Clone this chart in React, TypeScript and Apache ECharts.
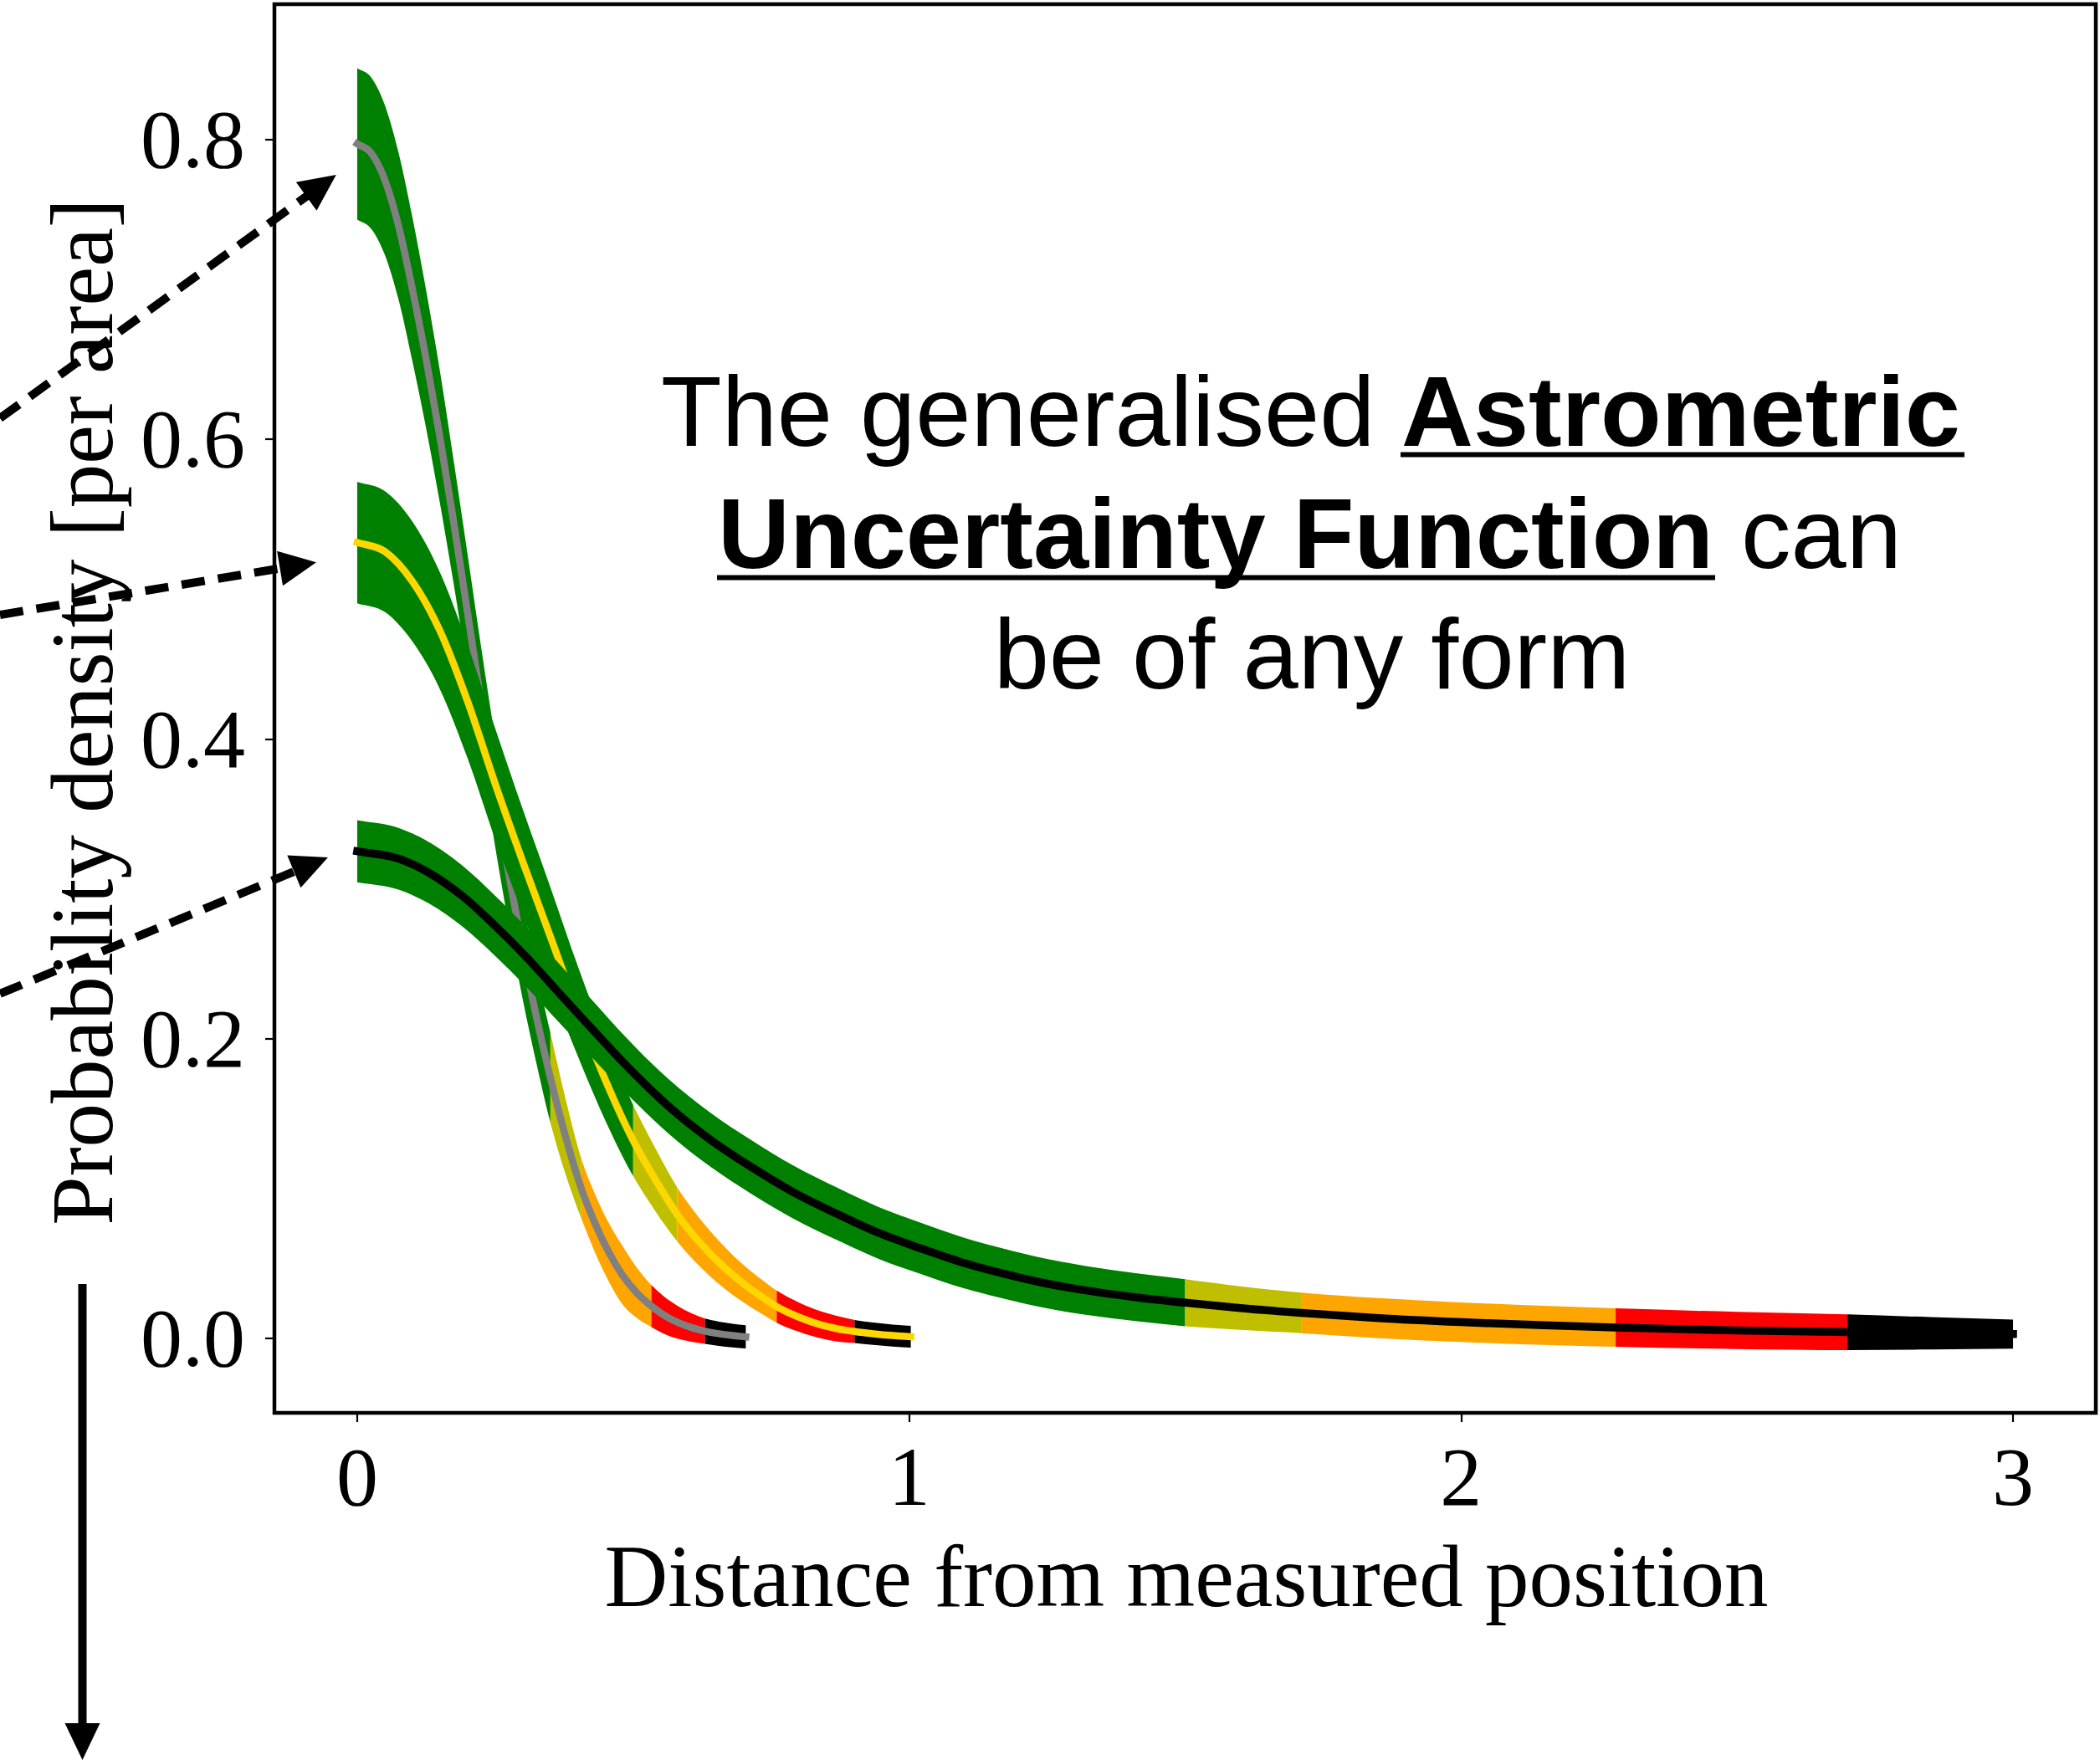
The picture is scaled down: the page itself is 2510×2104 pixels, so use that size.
import React, { useEffect, useRef } from 'react';
import * as echarts from 'echarts';

// ---- axis ticks ----
const X_TICKS = [0, 1, 2, 3];
const X_TICK_LABELS = ['0', '1', '2', '3'];
const Y_TICKS = [0, 0.2, 0.4, 0.6, 0.8];
const Y_TICK_LABELS = ['0.0', '0.2', '0.4', '0.6', '0.8'];

// ---- band colours along each curve (green, olive, orange, red, black) ----
const SEGMENT_COLORS = ['#008000', '#bfbf00', '#ffa500', '#ff0000', '#000000'];

// ---- gray curve ----
const GRAY_X = [0, 0.025, 0.05, 0.075, 0.1, 0.125, 0.15, 0.175, 0.2, 0.225, 0.25, 0.275, 0.3, 0.325, 0.35, 0.378, 0.406, 0.43, 0.455, 0.48, 0.505, 0.533, 0.555, 0.58, 0.605, 0.63, 0.655, 0.68, 0.704];
const GRAY_Y = [0.797, 0.791, 0.773, 0.742, 0.7, 0.653, 0.601, 0.544, 0.484, 0.423, 0.364, 0.309, 0.259, 0.214, 0.174, 0.134, 0.1, 0.0775, 0.058, 0.0425, 0.031, 0.0215, 0.0157, 0.0108, 0.0073, 0.0048, 0.0031, 0.0019, 0.001];
const GRAY_HW = [0.0505, 0.0505, 0.05, 0.049, 0.048, 0.046, 0.044, 0.041, 0.039, 0.037, 0.036, 0.034, 0.033, 0.031, 0.03, 0.025, 0.02, 0.0195, 0.0195, 0.0195, 0.017, 0.014, 0.0125, 0.011, 0.0095, 0.0084, 0.0081, 0.0079, 0.0077];
const GRAY_BOUNDS = [0.35, 0.406, 0.533, 0.63, 0.704];

// ---- yellow curve ----
const YELLOW_X = [0, 0.05, 0.1, 0.15, 0.2, 0.25, 0.3, 0.35, 0.4, 0.45, 0.5, 0.54, 0.58, 0.62, 0.666, 0.7, 0.73, 0.76, 0.8, 0.842, 0.87, 0.901, 0.935, 0.97, 1.003];
const YELLOW_Y = [0.531, 0.525, 0.505, 0.472, 0.425, 0.37, 0.318, 0.268, 0.218, 0.172, 0.132, 0.106, 0.0826, 0.0642, 0.047, 0.0365, 0.0285, 0.0212, 0.0142, 0.0088, 0.0064, 0.0046, 0.0031, 0.0019, 0.0011];
const YELLOW_HW = [0.0405, 0.0403, 0.04, 0.039, 0.038, 0.037, 0.035, 0.033, 0.03, 0.027, 0.0237, 0.021, 0.018, 0.016, 0.014, 0.0125, 0.0115, 0.0107, 0.0098, 0.009, 0.0085, 0.0077, 0.0075, 0.0073, 0.0072];
const YELLOW_BOUNDS = [0.5, 0.58, 0.76, 0.901, 1.003];

// ---- black curve ----
const BLACK_X = [0, 0.075, 0.133, 0.191, 0.249, 0.307, 0.365, 0.423, 0.489, 0.565, 0.64, 0.716, 0.792, 0.868, 0.943, 1.019, 1.095, 1.17, 1.246, 1.32, 1.41, 1.5, 1.6, 1.71, 1.85, 2.0, 2.15, 2.28, 2.5, 2.7, 2.85, 3.0];
const BLACK_Y = [0.325, 0.32, 0.31, 0.295, 0.2756, 0.2542, 0.2307, 0.2075, 0.1815, 0.1545, 0.1325, 0.1139, 0.0972, 0.0833, 0.0706, 0.0603, 0.0508, 0.0433, 0.0368, 0.032, 0.0275, 0.0238, 0.0202, 0.017, 0.0135, 0.0108, 0.0087, 0.0072, 0.0053, 0.0041, 0.0034, 0.0029];
const BLACK_HW = [0.0207, 0.0206, 0.0205, 0.0203, 0.0201, 0.0199, 0.0196, 0.0192, 0.0185, 0.0182, 0.018, 0.0179, 0.0177, 0.0175, 0.0173, 0.0171, 0.0169, 0.0167, 0.0165, 0.0163, 0.016, 0.0157, 0.0145, 0.0136, 0.0134, 0.0132, 0.013, 0.0128, 0.0124, 0.0119, 0.0108, 0.0097];
const BLACK_BOUNDS = [1.5, 1.71, 2.28, 2.7, 3.0];

type P = number[];

// monotone cubic (Fritsch-Carlson) tangents, used only to draw smooth edges through the read points
function tangents(pts: P[]): number[] {
  const n = pts.length;
  const h: number[] = [];
  const d: number[] = [];
  for (let i = 0; i < n - 1; i++) {
    h.push(pts[i + 1][0] - pts[i][0]);
    d.push((pts[i + 1][1] - pts[i][1]) / h[i]);
  }
  const m: number[] = new Array(n).fill(0);
  m[0] = d[0];
  m[n - 1] = d[n - 2];
  for (let i = 1; i < n - 1; i++) {
    if (d[i - 1] * d[i] <= 0) m[i] = 0;
    else m[i] = (d[i - 1] * h[i] + d[i] * h[i - 1]) / (h[i - 1] + h[i]);
  }
  for (let i = 0; i < n - 1; i++) {
    if (d[i] === 0) {
      m[i] = 0;
      m[i + 1] = 0;
      continue;
    }
    const a = m[i] / d[i];
    const b = m[i + 1] / d[i];
    const s = a * a + b * b;
    if (s > 9) {
      const t = 3 / Math.sqrt(s);
      m[i] = t * a * d[i];
      m[i + 1] = t * b * d[i];
    }
  }
  return m;
}

function fwd(pts: P[], m: number[], a: number, b: number): string {
  let s = '';
  for (let i = a; i < b; i++) {
    const dx = pts[i + 1][0] - pts[i][0];
    const c1x = pts[i][0] + dx / 3;
    const c1y = pts[i][1] + (m[i] * dx) / 3;
    const c2x = pts[i + 1][0] - dx / 3;
    const c2y = pts[i + 1][1] - (m[i + 1] * dx) / 3;
    s += ` C ${c1x} ${c1y} ${c2x} ${c2y} ${pts[i + 1][0]} ${pts[i + 1][1]}`;
  }
  return s;
}

function bwd(pts: P[], m: number[], b: number, a: number): string {
  let s = '';
  for (let i = b; i > a; i--) {
    const dx = pts[i][0] - pts[i - 1][0];
    const c1x = pts[i][0] - dx / 3;
    const c1y = pts[i][1] - (m[i] * dx) / 3;
    const c2x = pts[i - 1][0] + dx / 3;
    const c2y = pts[i - 1][1] + (m[i - 1] * dx) / 3;
    s += ` C ${c1x} ${c1y} ${c2x} ${c2y} ${pts[i - 1][0]} ${pts[i - 1][1]}`;
  }
  return s;
}

function curveSeries(name: string, xs: number[], ys: number[], hw: number[], bounds: number[], lineColor: string, lineWidth: number) {
  const rows = xs.map((x, i) => [x, ys[i] - hw[i], ys[i] + hw[i], ys[i]]);
  const segs: number[][] = [];
  let startIdx = 0;
  bounds.forEach((b) => {
    let endIdx = xs.findIndex((x) => Math.abs(x - b) < 1e-9);
    if (endIdx < 0) endIdx = xs.length - 1;
    segs.push([startIdx, endIdx]);
    startIdx = endIdx;
  });
  return {
    type: 'custom',
    name,
    coordinateSystem: 'cartesian2d',
    silent: true,
    data: rows,
    encode: { x: 0, y: [1, 2, 3] },
    renderItem: (params: any, api: any) => {
      if (params.dataIndex !== 0) return null;
      const lo: P[] = rows.map((r) => api.coord([r[0], r[1]]));
      const hi: P[] = rows.map((r) => api.coord([r[0], r[2]]));
      const mid: P[] = rows.map((r) => api.coord([r[0], r[3]]));
      const mLo = tangents(lo);
      const mHi = tangents(hi);
      const mMid = tangents(mid);
      const children: any[] = segs.map(([a, b], s) => ({
        type: 'path',
        shape: {
          pathData: `M ${hi[a][0]} ${hi[a][1]}` + fwd(hi, mHi, a, b) + ` L ${lo[b][0]} ${lo[b][1]}` + bwd(lo, mLo, b, a) + ' Z',
        },
        style: { fill: SEGMENT_COLORS[s], stroke: null },
      }));
      children.push({
        type: 'path',
        shape: { pathData: `M ${mid[0][0]} ${mid[0][1]}` + fwd(mid, mMid, 0, mid.length - 1) },
        style: { fill: null, stroke: lineColor, lineWidth, lineCap: 'square', lineJoin: 'round' },
      });
      return { type: 'group', children };
    },
  };
}

function arrow(x0: number, y0: number, tipX: number, tipY: number, dashed: boolean) {
  const dx = tipX - x0;
  const dy = tipY - y0;
  const len = Math.sqrt(dx * dx + dy * dy);
  const ux = dx / len;
  const uy = dy / len;
  const headLen = 44;
  const headHalf = 21;
  const bx = tipX - ux * headLen;
  const by = tipY - uy * headLen;
  const px = -uy;
  const py = ux;
  return [
    {
      type: 'line',
      z: 100,
      shape: { x1: x0, y1: y0, x2: bx + ux * 2, y2: by + uy * 2 },
      style: dashed
        ? { stroke: '#000', lineWidth: 10, lineDash: [28, 16] }
        : { stroke: '#000', lineWidth: 10 },
    },
    {
      type: 'polygon',
      z: 100,
      shape: {
        points: [
          [tipX, tipY],
          [bx + px * headHalf, by + py * headHalf],
          [bx - px * headHalf, by - py * headHalf],
        ],
      },
      style: { fill: '#000' },
    },
  ];
}

export default function App() {
  const ref = useRef<HTMLDivElement>(null);

  useEffect(() => {
    if (!ref.current) return;
    const chart = echarts.init(ref.current, undefined, { renderer: 'svg' });

    const series: any[] = [
      curveSeries('gray', GRAY_X, GRAY_Y, GRAY_HW, GRAY_BOUNDS, '#808080', 8.5),
      curveSeries('yellow', YELLOW_X, YELLOW_Y, YELLOW_HW, YELLOW_BOUNDS, '#ffd700', 8.5),
      curveSeries('black', BLACK_X, BLACK_Y, BLACK_HW, BLACK_BOUNDS, '#000000', 9.5),
    ];

    const sans = 'Liberation Sans';
    const serif = 'Liberation Serif';
    const annFont = 119;

    const graphic: any[] = [
      // annotation text
      { type: 'text', z: 100, style: { text: 'The generalised', x: 790, y: 491, fontSize: annFont, fontFamily: sans, fill: '#000', align: 'left', verticalAlign: 'middle' } },
      { type: 'text', z: 100, style: { text: 'Astrometric', x: 1675, y: 491, fontSize: annFont, fontWeight: 'bold', fontFamily: sans, fill: '#000', align: 'left', verticalAlign: 'middle' } },
      { type: 'rect', z: 100, shape: { x: 1674, y: 540.5, width: 674, height: 6 }, style: { fill: '#000' } },
      { type: 'text', z: 100, style: { text: 'Uncertainty Function', x: 858, y: 637, fontSize: annFont, fontWeight: 'bold', fontFamily: sans, fill: '#000', align: 'left', verticalAlign: 'middle' } },
      { type: 'text', z: 100, style: { text: 'can', x: 2081, y: 637, fontSize: annFont, fontFamily: sans, fill: '#000', align: 'left', verticalAlign: 'middle' } },
      { type: 'rect', z: 100, shape: { x: 857, y: 687.5, width: 1193, height: 6 }, style: { fill: '#000' } },
      { type: 'text', z: 100, style: { text: 'be of any form', x: 1568, y: 781, fontSize: annFont, fontFamily: sans, fill: '#000', align: 'center', verticalAlign: 'middle' } },
      // axis titles
      { type: 'text', z: 100, style: { text: 'Distance from measured position', x: 1418, y: 1884, fontSize: 105, lineHeight: 84, fontFamily: serif, fill: '#000', align: 'center', verticalAlign: 'middle' } },
      { type: 'text', z: 100, x: 98, y: 851, rotation: Math.PI / 2, style: { text: 'Probability density [per area]', x: 0, y: 0, fontSize: 105, fontFamily: serif, fill: '#000', align: 'center', verticalAlign: 'middle' } },
      // arrows
      ...arrow(0, 500, 401.8, 209, true),
      ...arrow(0, 735, 378, 672.3, true),
      ...arrow(0, 1188, 392, 1025, true),
      ...arrow(98.5, 1535, 98.5, 2104, false),
    ];

    chart.setOption({
      animation: false,
      backgroundColor: '#ffffff',
      grid: {
        left: 328,
        right: 5,
        top: 5,
        bottom: 415,
        show: true,
        borderColor: '#000',
        borderWidth: 4.5,
        containLabel: false,
      },
      xAxis: {
        type: 'value',
        position: 'bottom',
        min: -0.15,
        max: 3.15,
        axisLine: { show: false, onZero: false },
        splitLine: { show: false },
        axisTick: { show: true, inside: false, length: 11, lineStyle: { color: '#000', width: 2.2 }, customValues: X_TICKS },
        axisLabel: {
          customValues: X_TICKS,
          margin: 36,
          lineHeight: 80,
          fontSize: 100,
          fontFamily: serif,
          color: '#000',
          formatter: (v: number) => {
            const i = X_TICKS.findIndex((t) => Math.abs(t - v) < 1e-9);
            return i >= 0 ? X_TICK_LABELS[i] : '';
          },
        },
      },
      yAxis: {
        type: 'value',
        position: 'left',
        min: -0.0497,
        max: 0.8902,
        axisLine: { show: false, onZero: false },
        splitLine: { show: false },
        axisTick: { show: true, inside: false, length: 11, lineStyle: { color: '#000', width: 2.2 }, customValues: Y_TICKS },
        axisLabel: {
          customValues: Y_TICKS,
          margin: 35,
          fontSize: 100,
          fontFamily: serif,
          color: '#000',
          formatter: (v: number) => {
            const i = Y_TICKS.findIndex((t) => Math.abs(t - v) < 1e-9);
            return i >= 0 ? Y_TICK_LABELS[i] : '';
          },
        },
      },
      series,
      graphic,
    });

    return () => {
      chart.dispose();
    };
  }, []);

  return (
    <div
      ref={ref}
      style={{ position: 'fixed', left: 0, top: 0, width: 2510, height: 2104, background: '#fff' }}
    />
  );
}
